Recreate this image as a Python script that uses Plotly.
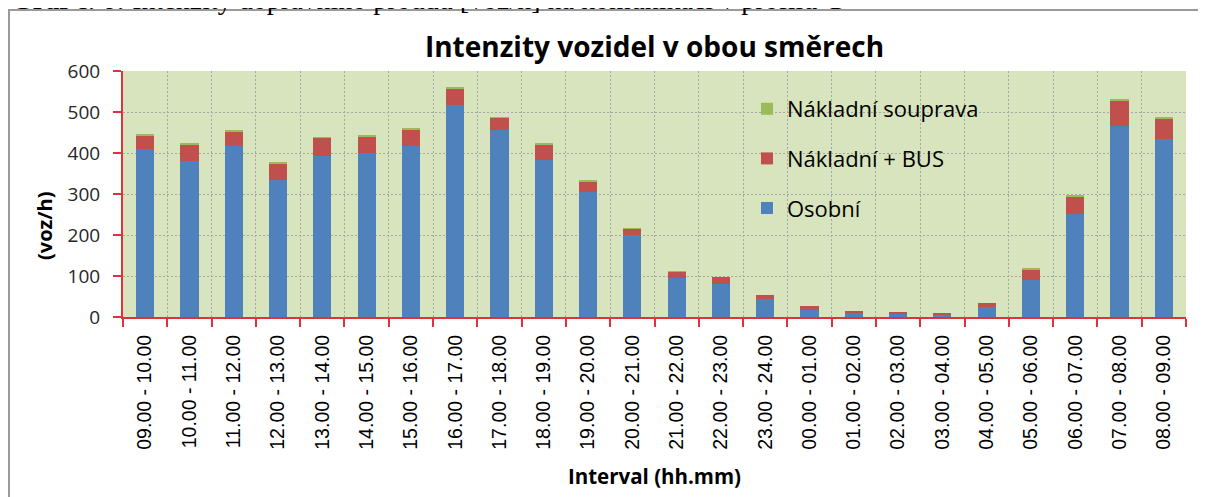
import plotly.graph_objects as go

W, H = 1206, 497
OFF = 8  # default body margin of the html page
ML, MR, MT, MB = 115, 28, 63, 188

intervals = [
    "09.00 - 10.00", "10.00 - 11.00", "11.00 - 12.00", "12.00 - 13.00",
    "13.00 - 14.00", "14.00 - 15.00", "15.00 - 16.00", "16.00 - 17.00",
    "17.00 - 18.00", "18.00 - 19.00", "19.00 - 20.00", "20.00 - 21.00",
    "21.00 - 22.00", "22.00 - 23.00", "23.00 - 24.00", "00.00 - 01.00",
    "01.00 - 02.00", "02.00 - 03.00", "03.00 - 04.00", "04.00 - 05.00",
    "05.00 - 06.00", "06.00 - 07.00", "07.00 - 08.00", "08.00 - 09.00",
]
osobni = [410, 381, 417, 335, 393, 400, 417, 518, 456, 384, 304, 199,
          96, 80, 44, 18, 10, 8, 5, 24, 91, 252, 466, 433]
nakladni_bus = [33, 40, 36, 39, 44, 40, 39, 40, 30, 36, 27, 16,
                14, 17, 10, 9, 4, 3, 3, 11, 26, 43, 62, 52]
souprava = [2, 2, 2, 2, 2, 2, 6, 1, 1, 3, 1, 1,
            1, 0, 0, 0, 0, 0, 0, 0, 1, 1, 2, 2]
y_ticks = [0, 100, 200, 300, 400, 500, 600]

RED_AXIS = "#E0313C"
GRID = "#A6A6A6"
SANS = "Open Sans"


def px_x(px):
    # screen column -> paper x
    return (px - OFF - ML) / (W - ML - MR)


def px_y(py):
    # screen row -> paper y
    return 1 - (py - OFF - MT) / (H - MT - MB)


fig = go.Figure()
fig.add_trace(go.Bar(x=intervals, y=osobni, name="Osobní",
                     marker=dict(color="#4F81BD", line_width=0),
                     legendgroup="a", legendrank=3))
fig.add_trace(go.Bar(x=intervals, y=nakladni_bus, name="Nákladní + BUS",
                     marker=dict(color="#C0504D", line_width=0),
                     legendgroup="b", legendrank=2))
fig.add_trace(go.Bar(x=intervals, y=souprava, name="Nákladní souprava",
                     marker=dict(color="#9BBB59", line_width=0),
                     legendgroup="c", legendrank=1))

fig.update_layout(
    width=W, height=H,
    margin=dict(l=ML, r=MR, t=MT, b=MB, pad=0),
    barmode="stack",
    bargap=0.59,
    paper_bgcolor="white",
    plot_bgcolor="#D7E4BD",
    font=dict(family=SANS, color="#262626"),
    title=dict(text="<b>Intenzity vozidel v obou směrech</b>",
               x=0.5, xref="paper", xanchor="center",
               y=1 - (47 - OFF) / H, yref="container", yanchor="middle",
               font=dict(family=SANS, size=28, color="#000000")),
    legend=dict(x=px_x(747), y=px_y(88), xanchor="left", yanchor="top",
                traceorder="grouped", tracegroupgap=18,
                bgcolor="rgba(0,0,0,0)",
                font=dict(family=SANS, size=22, color="#000000")),
    showlegend=True,
    xaxis=dict(
        type="category",
        tickangle=-90,
        tickfont=dict(family="Liberation Sans", size=19.5, color="#000000"),
        showline=True, linecolor=RED_AXIS, linewidth=2,
        ticks="outside", tickson="boundaries", ticklen=8, tickcolor=RED_AXIS, tickwidth=2,
        ticklabelstandoff=8,
        showgrid=True, gridcolor=GRID, gridwidth=1, griddash="2px,2px",
        title=dict(text="<b>Interval (hh.mm)</b>", standoff=21,
                   font=dict(family=SANS, size=20.5, color="#000000")),
    ),
    yaxis=dict(
        range=[0, 600],
        tickvals=y_ticks,
        tickfont=dict(family=SANS, size=19, color="#262626"),
        showline=True, linecolor=RED_AXIS, linewidth=2,
        ticks="outside", ticklen=8, tickcolor=RED_AXIS, tickwidth=2,
        ticklabelstandoff=9,
        showgrid=True, gridcolor=GRID, gridwidth=1, griddash="2px,2px",
        zeroline=False,
    ),
)

# y axis title, placed where the original has it
fig.add_annotation(text="<b>(voz/h)</b>", textangle=-90,
                   xref="paper", yref="paper", x=px_x(44), y=px_y(226),
                   xanchor="center", yanchor="middle", showarrow=False,
                   font=dict(family=SANS, size=20, color="#000000"))

# page frame around the chart
fig.add_shape(type="rect", xref="paper", yref="paper",
              x0=px_x(9), x1=px_x(1240), y0=px_y(540), y1=px_y(10),
              line=dict(color="#9A9A9A", width=2), fillcolor="rgba(0,0,0,0)", layer="below")

# document caption above the frame (cut off by the page edge)
fig.add_annotation(text="<b>Graf č. 6:</b> Intenzity dopravního proudu [voz/h] na komunikaci v profilu C",
                   xref="paper", yref="paper", x=px_x(9), y=px_y(17),
                   xanchor="left", yanchor="bottom", showarrow=False,
                   font=dict(family="Liberation Serif", size=28, color="#000000"))

fig.write_html("out.html")
